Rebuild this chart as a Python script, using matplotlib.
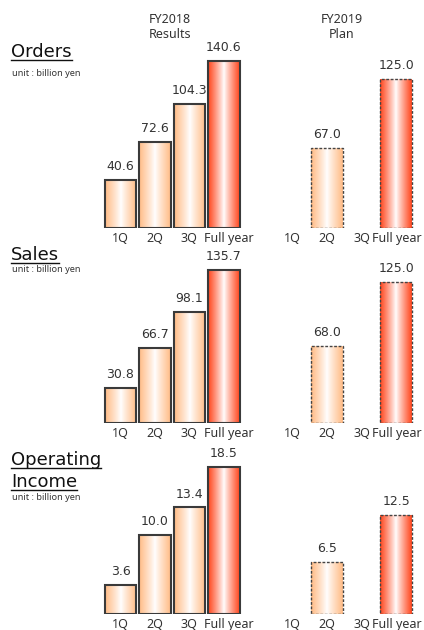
import numpy as np
import matplotlib
matplotlib.use("Agg")
import matplotlib.pyplot as plt
import matplotlib.transforms as mtransforms
from matplotlib.colors import to_rgb

# ---- data ----
categories = ["1Q", "2Q", "3Q", "Full year"]
orders_results = [40.6, 72.6, 104.3, 140.6]
orders_plan = [None, 67.0, None, 125.0]
sales_results = [30.8, 66.7, 98.1, 135.7]
sales_plan = [None, 68.0, None, 125.0]
income_results = [3.6, 10.0, 13.4, 18.5]
income_plan = [None, 6.5, None, 12.5]
unit_label = "unit : billion yen"
header_results = "FY2018\nResults"
header_plan = "FY2019\nPlan"

W, H = 424, 630
DPI = 100
fig = plt.figure(figsize=(W / DPI, H / DPI), dpi=DPI)
plt.rcParams['font.family'] = ['DejaVu Sans']

TXT = "#333333"
LIGHT = "#FFBF8C"
DARK = "#FF4F28"
TICKFONT = ['Noto Sans', 'DejaVu Sans']

res_pos = np.array([0, 1, 2, 3])
plan_pos = np.array([5, 6, 7, 8])
bar_w = 0.92

def px_axes(left, right, top, bottom):
    return fig.add_axes([left / W, 1 - bottom / H, (right - left) / W, (bottom - top) / H])

def gradient_bar(ax, x, h, color, dashed):
    c = np.array(to_rgb(color))
    n = 64
    t = np.linspace(-1, 1, n)
    w = np.clip(np.abs(t) ** 0.9 * 1.05, 0, 1)
    img = (1 - w[:, None]) * np.ones(3)[None, :] + w[:, None] * c[None, :]
    img = img[None, :, :]
    rect = ax.bar(x, h, width=bar_w, facecolor="none",
                  edgecolor="#3a3a3a" if not dashed else "#444444",
                  linewidth=1.5 if not dashed else 1.0,
                  linestyle="-" if not dashed else (0, (2, 1.2)), zorder=3)[0]
    im = ax.imshow(img, extent=(x - bar_w / 2, x + bar_w / 2, 0, h),
                   aspect="auto", zorder=2, interpolation="bilinear")
    im.set_clip_path(rect)
    return rect

panels = [
    (orders_results, orders_plan, 228, 40, 1.19),
    (sales_results, sales_plan, 423, 250, 1.13),
    (income_results, income_plan, 614, 450, 7.95),
]
x0_px, dx_px = 120.5, 34.45
left_px = x0_px - 0.5 * dx_px
right_px = x0_px + 8.6 * dx_px

for (res, plan, base, top, scale) in panels:
    ax = px_axes(left_px, right_px, top, base)
    ax.set_xlim(-0.5, 8.6)
    ax.set_ylim(0, (base - top) / scale)
    for i, v in enumerate(res):
        color = DARK if i == 3 else LIGHT
        gradient_bar(ax, res_pos[i], v, color, False)
        ax.annotate(f"{v:.1f}", (res_pos[i], v), xytext=(0, 5), textcoords="offset points",
                    ha="center", va="bottom", fontsize=9, color=TXT)
    for i, v in enumerate(plan):
        if v is None:
            continue
        color = DARK if i == 3 else LIGHT
        gradient_bar(ax, plan_pos[i], v, color, True)
        ax.annotate(f"{v:.1f}", (plan_pos[i], v), xytext=(0, 5), textcoords="offset points",
                    ha="center", va="bottom", fontsize=9, color=TXT)
    ax.set_xticks(list(res_pos) + list(plan_pos))
    ax.set_xticklabels(categories + categories, fontsize=9, color=TXT)
    ax.tick_params(axis="x", length=0, pad=3)
    labs = ax.get_xticklabels()
    for k, lab in enumerate(labs):
        lab.set_family(TICKFONT)
        if lab.get_text() == "Full year":
            dx = 5 if k < 4 else 0.5
            lab.set_transform(lab.get_transform() +
                              mtransforms.ScaledTranslation(dx / DPI, 0, fig.dpi_scale_trans))
    ax.set_yticks([])
    for s in ax.spines.values():
        s.set_visible(False)
    ax.patch.set_alpha(0)

# headers
fig.text(170 / W, 1 - 27 / H, header_results, ha="center", va="center", fontsize=9,
         color=TXT, linespacing=1.15, family=TICKFONT)
fig.text(342 / W, 1 - 27 / H, header_plan, ha="center", va="center", fontsize=9,
         color=TXT, linespacing=1.15, family=TICKFONT)

# panel titles with underline
title_specs = [(["Orders"], [52], 74), (["Sales"], [255], 270),
               (["Operating", "Income"], [460, 482], 497)]
fig.canvas.draw()
renderer = fig.canvas.get_renderer()
for lines, ys, unit_y in title_specs:
    for line, y in zip(lines, ys):
        t = fig.text(11 / W, 1 - y / H, line, ha="left", va="center", fontsize=13,
                     color="#111111")
        bb = t.get_window_extent(renderer=renderer)
        uy = (bb.y0 + 1) / H
        fig.add_artist(plt.Line2D([bb.x0 / W, bb.x1 / W], [uy, uy],
                                  color="#111111", linewidth=1.0))
    fig.text(12 / W, 1 - unit_y / H, unit_label, ha="left", va="center",
             fontsize=6.6, color=TXT, family=TICKFONT)

fig.savefig("out.png", dpi=DPI)
